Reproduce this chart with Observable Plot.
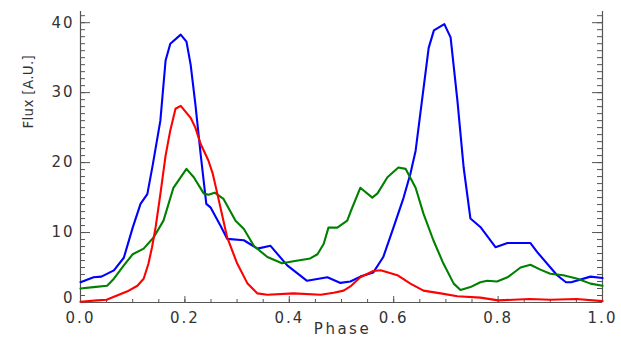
<!DOCTYPE html>
<html>
<head>
<meta charset="utf-8">
<script src="https://cdn.jsdelivr.net/npm/d3@7"></script>
<script src="https://cdn.jsdelivr.net/npm/@observablehq/plot@0.6"></script>
<style>
  html, body { margin: 0; padding: 0; background: #fff; }
  g[aria-label="x-axis tick label"] text,
  g[aria-label="y-axis tick label"] text,
  g.zero-label text { letter-spacing: 2px; }
  g.phase-label text { letter-spacing: 2.5px; }
  g.flux-label text { letter-spacing: 0.3px; }
</style>
</head>
<body>
<div id="chart"></div>
<script>
// ---- data ----
const bluePhase = [0.0, 0.025, 0.04, 0.064, 0.083, 0.10, 0.115, 0.128, 0.138, 0.153, 0.163, 0.172, 0.192, 0.203, 0.211, 0.22, 0.23, 0.241, 0.249, 0.268, 0.281, 0.313, 0.339, 0.364, 0.396, 0.434, 0.473, 0.498, 0.517, 0.536, 0.561, 0.58, 0.60, 0.619, 0.632, 0.642, 0.667, 0.677, 0.697, 0.709, 0.722, 0.734, 0.747, 0.766, 0.795, 0.818, 0.862, 0.875, 0.913, 0.93, 0.94, 0.977, 1.0];
const blueFlux  = [2.9, 3.6, 3.7, 4.6, 6.4, 10.7, 14.1, 15.5, 19.5, 26.0, 34.6, 37.0, 38.3, 37.3, 34.0, 28.4, 21.3, 14.1, 13.6, 11.0, 9.1, 8.9, 7.7, 8.1, 5.3, 3.1, 3.6, 2.8, 3.0, 3.7, 4.3, 6.5, 10.8, 15.0, 18.4, 21.7, 36.4, 38.9, 39.8, 37.9, 28.9, 19.3, 12.0, 10.8, 7.9, 8.5, 8.5, 7.2, 3.9, 2.9, 2.9, 3.7, 3.5];

const greenPhase = [0.0, 0.025, 0.051, 0.064, 0.083, 0.10, 0.121, 0.14, 0.159, 0.178, 0.203, 0.217, 0.236, 0.245, 0.257, 0.274, 0.297, 0.313, 0.332, 0.358, 0.386, 0.408, 0.44, 0.454, 0.466, 0.475, 0.492, 0.511, 0.517, 0.536, 0.559, 0.569, 0.588, 0.609, 0.623, 0.642, 0.657, 0.676, 0.695, 0.715, 0.728, 0.747, 0.766, 0.779, 0.798, 0.818, 0.843, 0.862, 0.881, 0.90, 0.925, 0.952, 0.977, 1.0];
const greenFlux  = [2.0, 2.2, 2.4, 3.4, 5.3, 6.9, 7.7, 9.3, 11.7, 16.4, 19.1, 17.9, 15.6, 15.4, 15.7, 14.8, 11.7, 10.5, 8.1, 6.5, 5.6, 5.9, 6.3, 6.9, 8.4, 10.7, 10.7, 11.7, 12.9, 16.4, 15.0, 15.6, 17.9, 19.3, 19.1, 16.4, 12.7, 8.9, 5.6, 2.7, 1.8, 2.2, 2.9, 3.1, 3.0, 3.6, 5.0, 5.4, 4.7, 4.1, 3.9, 3.4, 2.7, 2.4];

const redPhase = [0.0, 0.032, 0.05, 0.07, 0.09, 0.109, 0.121, 0.13, 0.137, 0.144, 0.153, 0.163, 0.172, 0.182, 0.192, 0.211, 0.22, 0.23, 0.245, 0.253, 0.262, 0.281, 0.30, 0.32, 0.339, 0.358, 0.408, 0.46, 0.485, 0.504, 0.517, 0.536, 0.561, 0.575, 0.607, 0.632, 0.657, 0.69, 0.722, 0.766, 0.80, 0.86, 0.90, 0.95, 1.0];
const redFlux  = [0.1, 0.3, 0.4, 1.0, 1.6, 2.4, 3.4, 5.5, 7.9, 10.8, 15.5, 21.0, 24.6, 27.7, 28.1, 26.4, 25.0, 22.7, 20.3, 18.5, 15.6, 9.3, 5.6, 2.7, 1.3, 1.1, 1.3, 1.1, 1.4, 1.7, 2.3, 3.6, 4.5, 4.6, 3.9, 2.7, 1.7, 1.3, 0.9, 0.7, 0.3, 0.5, 0.4, 0.5, 0.2];

const xMajorTicks = [0, 0.2, 0.4, 0.6, 0.8, 1.0];
const xMinorTicks = d3.range(0, 21).map(i => i * 0.05);
const yMajorTicks = [0, 10, 20, 30, 40];
const yMinorTicks = d3.range(0, 42);
const xTitle = "Phase";
const yTitle = "Flux [A.U.]";

// ---- build tables ----
const series = [
  {name: "blue", color: "#1c1cbe", phase: bluePhase, flux: blueFlux},
  {name: "green", color: "#25a02a", phase: greenPhase, flux: greenFlux},
  {name: "red", color: "#de1f1f", phase: redPhase, flux: redFlux}
];
const rows = series.flatMap(s => s.phase.map((p, i) => ({series: s.name, phase: p, flux: s.flux[i]})));

const W = 621, H = 340, mL = 80, mR = 19, mT = 11, mB = 38;
const fw = W - mL - mR, fh = H - mT - mB;
const axisColor = "#555";

const chart = Plot.plot({
  width: W, height: H,
  marginLeft: mL, marginRight: mR, marginTop: mT, marginBottom: mB,
  style: {fontFamily: "DejaVu Sans, sans-serif", background: "#fff"},
  x: {domain: [0, 1]},
  y: {domain: [0, 41.6]},
  color: {domain: series.map(s => s.name), range: series.map(s => s.color)},
  marks: [
    // axis lines (left, right, bottom)
    Plot.ruleX([0, 1], {stroke: axisColor, strokeWidth: 1.2}),
    Plot.ruleY([0], {stroke: axisColor, strokeWidth: 1.2}),
    // inward ticks on left and right
    Plot.tickY(yMinorTicks, {y: d => d, stroke: axisColor, insetRight: fw - 5}),
    Plot.tickY(yMajorTicks, {y: d => d, stroke: axisColor, insetRight: fw - 10}),
    Plot.tickY(yMinorTicks, {y: d => d, stroke: axisColor, insetLeft: fw - 5}),
    Plot.tickY(yMajorTicks, {y: d => d, stroke: axisColor, insetLeft: fw - 10}),
    // inward ticks on bottom
    Plot.tickX(xMinorTicks, {x: d => d, stroke: axisColor, insetTop: fh - 3}),
    Plot.tickX(xMajorTicks, {x: d => d, stroke: axisColor, insetTop: fh - 6}),
    // tick labels
    Plot.axisY({ticks: yMajorTicks.filter(d => d !== 0), tickSize: 0, tickPadding: 6, label: null, fontSize: 15, fill: "#333"}),
    Plot.text(yMajorTicks.filter(d => d === 0), {y: d => d, text: d => String(d), frameAnchor: "left", textAnchor: "end", dx: -6, dy: -4, fontSize: 15, fill: "#333", className: "zero-label"}),
    Plot.axisX({ticks: xMajorTicks, tickSize: 0, tickPadding: 10, label: null, fontSize: 15, fill: "#333", tickFormat: d3.format(".1f")}),
    // titles
    Plot.text([xTitle], {frameAnchor: "bottom", dy: 31, dx: 1, fontSize: 15, fill: "#333", className: "phase-label"}),
    Plot.text([yTitle], {frameAnchor: "top-left", dx: -57, dy: 117, rotate: -90, fontSize: 13.5, fill: "#333", className: "flux-label"}),
    // data lines
    Plot.line(rows, {x: "phase", y: "flux", z: "series", stroke: "series", strokeWidth: 2.1})
  ]
});
document.getElementById("chart").appendChild(chart);
</script>
</body>
</html>
